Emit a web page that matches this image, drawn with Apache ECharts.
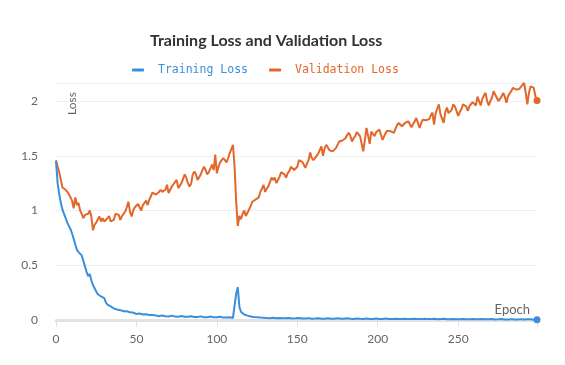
<!DOCTYPE html>
<html>
<head>
<meta charset="utf-8">
<script src="https://cdn.jsdelivr.net/npm/echarts@6/dist/echarts.min.js"></script>
<style>
html,body{margin:0;padding:0;background:#fff;}
#chart{width:565px;height:365px;}
</style>
</head>
<body>
<div id="chart"></div>
<script>
var titleText = 'Training Loss and Validation Loss';
var seriesNames = ['Training Loss', 'Validation Loss'];
var xAxisName = 'Epoch';
var yAxisName = 'Loss';
var xTicks = [0, 50, 100, 150, 200, 250];
var yTicks = [0, 0.5, 1, 1.5, 2];

var trainingLoss = [
1.45,1.25,1.15,1.07,1.01,0.97,0.93,0.89,0.86,0.83,
0.79,0.74,0.69,0.64,0.62,0.63,0.59,0.54,0.49,0.44,
0.40,0.42,0.36,0.32,0.29,0.26,0.235,0.22,0.215,0.205,
0.20,0.16,0.14,0.13,0.125,0.115,0.105,0.10,0.095,0.09,
0.09,0.085,0.08,0.078,0.08,0.075,0.07,0.065,0.068,0.062,
0.055,0.058,0.06,0.055,0.05,0.048,0.052,0.05,0.045,0.04,
0.045,
0.048,0.042,0.036,0.034,0.038,0.042,0.04,0.035,0.03,0.032,
0.037,0.04,0.036,0.031,0.028,0.03,0.035,0.037,0.033,0.029,
0.026,0.029,0.033,0.035,0.031,0.027,0.025,0.028,0.032,0.033,
0.029,0.025,0.023,0.026,0.03,0.032,0.028,0.024,0.022,0.025,
0.029,0.03,0.026,0.022,0.02,0.023,0.027,0.026,0.022,0.019,
0.02,0.24,0.30,0.12,0.075,0.06,0.05,0.045,0.04,0.036,
0.032,0.03,0.028,0.026,0.025,0.023,0.022,0.021,0.02,0.02,
0.018,0.016,0.017,0.019,0.02,0.017,0.015,0.016,0.018,0.019,
0.016,0.014,0.015,0.017,0.018,0.016,0.014,0.013,0.015,0.017,
0.018,0.015,0.013,0.012,0.014,0.016,0.017,0.015,0.012,0.011,
0.013,0.015,0.016,0.014,0.012,0.011,0.012,0.014,0.016,0.015,
0.012,0.01,0.011,0.013,0.015,0.014,0.012,0.01,0.011,0.013,
0.015,0.013,0.011,0.009,0.01,0.012,0.014,0.013,0.011,0.009,
0.01,0.012,0.014,0.012,0.01,0.009,0.01,0.012,0.013,0.012,
0.01,0.008,0.009,0.011,0.013,0.012,0.01,0.008,0.009,0.011,
0.012,0.011,0.009,0.008,0.009,0.011,0.012,0.01,0.008,0.007,
0.009,0.011,0.012,0.01,0.008,0.007,0.008,0.01,0.011,0.01,
0.008,0.007,0.008,0.01,0.011,0.009,0.007,0.006,0.008,0.01,
0.011,0.009,0.007,0.006,0.007,0.009,0.01,0.009,0.007,0.006,
0.007,0.009,0.01,0.008,0.006,0.005,0.007,0.009,0.01,0.008,
0.006,0.005,0.006,0.008,0.009,0.008,0.006,0.005,0.006,0.008,
0.009,0.007,0.005,0.004,0.006,0.008,0.009,0.007,0.005,0.004,
0.005,0.007,0.008,0.007,0.005,0.004,0.005,0.007,0.008,0.006,
0.004,0.004,0.006,0.007,0.006,0.004,0.003,0.004,0.003
];

var validationLoss = [
1.46,1.40,1.35,1.28,1.21,1.20,1.19,1.17,1.15,1.12,
1.09,1.02,1.12,1.05,1.07,1.00,0.97,0.93,0.96,0.95,
0.97,1.00,0.94,0.82,0.87,0.89,0.92,0.945,0.90,0.93,
0.90,0.915,0.93,0.95,0.90,0.90,0.915,0.97,0.965,0.96,
0.915,0.95,0.97,0.99,1.03,1.08,0.99,0.945,1.00,1.03,
1.045,1.06,1.03,1.00,1.05,1.07,1.09,1.05,1.10,1.13,
1.165,1.15,1.145,1.15,1.17,1.19,1.17,1.165,1.19,1.235,
1.16,1.19,1.22,1.24,1.26,1.28,1.205,1.22,1.25,1.29,
1.33,1.30,1.25,1.22,1.245,1.33,1.357,1.33,1.28,1.265,
1.33,1.37,1.40,1.37,1.33,1.35,1.36,1.42,1.37,1.51,
1.34,1.40,1.44,1.46,1.48,1.47,1.44,1.48,1.525,1.56,
1.60,1.40,1.08,0.86,0.95,0.92,0.97,1.00,0.95,0.98,
1.01,1.04,1.08,1.085,1.10,1.11,1.12,1.17,1.20,1.235,
1.17,1.20,1.22,1.26,1.30,1.28,1.30,1.25,1.28,1.31,
1.35,1.34,1.33,1.30,1.34,1.36,1.40,1.39,1.37,1.355,
1.40,1.46,1.45,1.445,1.42,1.39,1.43,1.46,1.53,1.48,
1.46,1.47,1.50,1.52,1.535,1.585,1.50,1.57,1.60,1.59,
1.55,1.535,1.54,1.55,1.57,1.585,1.63,1.615,1.64,1.645,
1.66,1.69,1.71,1.68,1.63,1.66,1.68,1.715,1.70,1.68,
1.69,1.54,1.645,1.755,1.77,1.61,1.72,1.70,1.68,1.715,
1.73,1.74,1.69,1.645,1.68,1.71,1.73,1.745,1.725,1.72,
1.71,1.745,1.78,1.80,1.785,1.77,1.755,1.80,1.81,1.815,
1.80,1.76,1.79,1.815,1.845,1.80,1.755,1.80,1.83,1.845,
1.825,1.83,1.835,1.87,1.895,1.785,1.89,1.93,1.97,1.88,
1.84,1.80,1.90,1.94,1.89,1.88,1.92,1.97,1.95,1.94,
1.865,1.90,1.925,1.97,1.985,1.95,1.91,1.955,1.97,1.99,
2.00,1.96,2.04,2.00,1.96,2.02,2.05,2.075,2.00,1.96,
2.00,2.03,2.09,2.06,2.045,2.00,2.02,2.04,2.075,2.04,
1.985,2.045,2.07,2.09,2.12,2.11,2.105,2.09,2.11,2.13,
2.14,2.165,2.075,1.97,2.075,2.135,2.15,2.12,2.045,2.005
];

var blue = '#3a8fdd';
var orange = '#e2672b';

function toPairs(arr) {
  return arr.map(function (v, i) {
    if (i === arr.length - 1) {
      return { value: [i, v], symbol: 'circle', symbolSize: 7 };
    }
    return [i, v];
  });
}

var chart = echarts.init(document.getElementById('chart'), null, { renderer: 'canvas' });
var font = 'Lato';
chart.setOption({
  animation: false,
  backgroundColor: '#fff',
  title: {
    text: titleText,
    left: 145,
    top: 28,
    textStyle: { fontFamily: font, fontSize: 16, fontWeight: 'bold', color: '#333' }
  },
  legend: {
    data: [
      { name: seriesNames[0], textStyle: { color: blue } },
      { name: seriesNames[1], textStyle: { color: orange } }
    ],
    left: 127,
    top: 59,
    icon: 'roundRect',
    itemWidth: 12,
    itemHeight: 3,
    itemGap: 21,
    textStyle: { fontFamily: 'DejaVu Sans Mono', fontSize: 11.5, padding: [0, 0, 0, 9] }
  },
  grid: { left: 56, right: 28, top: 83, bottom: 45 },
  xAxis: {
    type: 'value',
    min: 0,
    max: 'dataMax',
    interval: 50,
    name: xAxisName,
    nameLocation: 'end',
    nameGap: -7,
    nameTextStyle: { fontFamily: font, fontSize: 13, color: '#666', align: 'right', verticalAlign: 'bottom', padding: [0, 0, 4, 0] },
    axisLine: { show: true, lineStyle: { color: '#e3e3e3', width: 3 } },
    axisTick: { show: true, length: 7, lineStyle: { color: '#e3e3e3', width: 1 } },
    axisLabel: { fontFamily: font, fontSize: 12, color: '#666', margin: 13,
      formatter: function (v) { return xTicks.indexOf(v) >= 0 ? String(v) : ''; } },
    splitLine: { show: false }
  },
  yAxis: {
    type: 'value',
    min: 0,
    max: 'dataMax',
    interval: 0.5,
    name: yAxisName,
    nameLocation: 'end',
    nameRotate: 90,
    nameGap: -9,
    nameTextStyle: { fontFamily: font, fontSize: 12, color: '#666', align: 'right', verticalAlign: 'top', padding: [10, 0, 0, 0] },
    axisLine: { show: false },
    axisTick: { show: false },
    axisLabel: { fontFamily: font, fontSize: 12, color: '#666', margin: 18,
      formatter: function (v) { return yTicks.indexOf(v) >= 0 ? String(v) : ''; } },
    splitLine: { show: true, lineStyle: { color: '#f0f0f0', width: 1 } }
  },
  series: [
    {
      name: seriesNames[0],
      type: 'line',
      data: toPairs(trainingLoss),
      symbol: 'none',
      showSymbol: true,
      color: blue,
      lineStyle: { color: blue, width: 2 },
      itemStyle: { color: blue },
      z: 3
    },
    {
      name: seriesNames[1],
      type: 'line',
      data: toPairs(validationLoss),
      symbol: 'none',
      showSymbol: true,
      color: orange,
      lineStyle: { color: orange, width: 2 },
      itemStyle: { color: orange },
      z: 2
    }
  ]
});
</script>
</body>
</html>
